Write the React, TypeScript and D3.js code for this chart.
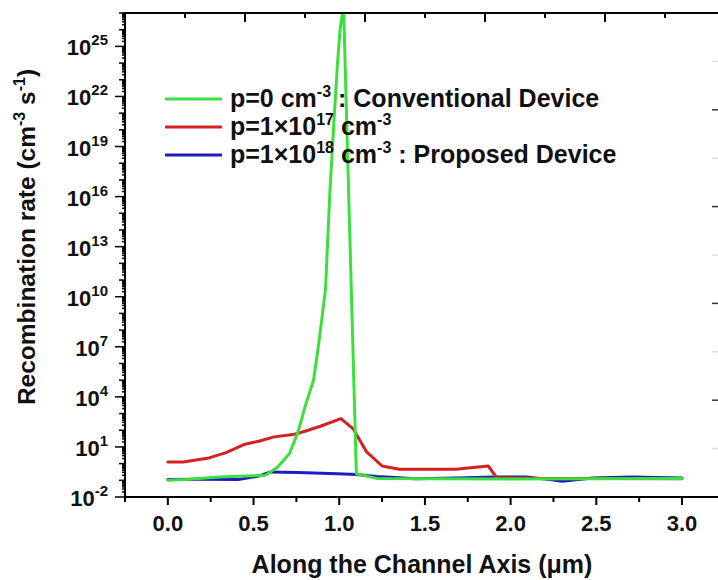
import React from 'react';
import * as d3 from 'd3';

// ---- data ----
const greenX = [0, 0.1, 0.3, 0.5, 0.57, 0.64, 0.71, 0.76, 0.8, 0.85, 0.875, 0.9, 0.92, 0.946, 0.972, 0.99, 1.005, 1.025, 1.1, 1.22, 1.5, 2.0, 2.5, 3.0];
const greenY = [0.1, 0.11, 0.16, 0.19, 0.2, 0.6, 4, 80, 2.5e3, 1e5, 6e6, 6e8, 3e10, 2.5e16, 1e21, 1e24, 1e26, 3e27, 0.25, 0.13, 0.125, 0.12, 0.125, 0.13];

const redX = [0, 0.09, 0.24, 0.34, 0.45, 0.53, 0.62, 0.73, 0.8, 0.89, 1.01, 1.08, 1.16, 1.25, 1.35, 1.68, 1.87, 1.92, 2.2, 2.6, 3.0];
const redY = [1.25, 1.25, 2.2, 4.6, 14.5, 22, 40, 55, 87, 174, 500, 126, 5, 0.72, 0.46, 0.46, 0.72, 0.14, 0.13, 0.13, 0.125];

const blueX = [0, 0.18, 0.41, 0.53, 0.6, 0.76, 0.99, 1.1, 1.22, 1.45, 1.68, 1.91, 2.09, 2.23, 2.3, 2.48, 2.71, 3.0];
const blueY = [0.112, 0.115, 0.11, 0.18, 0.32, 0.29, 0.25, 0.22, 0.17, 0.126, 0.138, 0.16, 0.16, 0.11, 0.087, 0.138, 0.16, 0.138];

const xTickValues = [0, 0.5, 1.0, 1.5, 2.0, 2.5, 3.0];
const xMinorTicks = [-0.25, 0.25, 0.75, 1.25, 1.75, 2.25, 2.75];
const yTickExponents = [-2, 1, 4, 7, 10, 13, 16, 19, 22, 25];

const FONT = '"Liberation Sans", Arial, Helvetica, sans-serif';

const W = 718;
const H = 580;
const LEFT = 125;
const BOTTOM = 497;
const TOP = 13;

export default function App() {
  const x = d3.scaleLinear().domain([-0.25, 3.0]).range([LEFT, 682]);
  const y = d3.scaleLog().domain([1e-2, 1e27]).range([BOTTOM, TOP]);
  const topScale = d3.scaleLinear().domain([0, 10]).range([LEFT, 725]);
  const rightScale = d3.scaleLinear().domain([0, 10]).range([BOTTOM, 13]);

  const line = d3
    .line<[number, number]>()
    .x((d) => x(d[0]))
    .y((d) => y(d[1]));

  const series = [
    { xs: blueX, ys: blueY, color: '#1c1cc0' },
    { xs: redX, ys: redY, color: '#d4201e' },
    { xs: greenX, ys: greenY, color: '#3ddf3d' },
  ];

  // y ticks (log): decades and sub-decades
  const yTicks: { v: number; len: number }[] = [];
  for (let d = -2; d <= 27; d++) {
    const major = (d + 2) % 3 === 0;
    yTicks.push({ v: Math.pow(10, d), len: major ? 10 : 6 });
    if (d < 27) {
      for (let k = 2; k <= 9; k++) yTicks.push({ v: k * Math.pow(10, d), len: 3 });
    }
  }

  const topTicks = d3.range(0, 11).map((k) => ({ v: k, major: k % 2 === 0 }));
  const rightTicks = d3.range(1, 10).map((k) => ({ v: k, major: k % 2 === 0 }));

  const legend = [
    { color: '#3ddf3d', parts: [['p=0 cm', ''], ['-3', 'sup'], [' : Conventional Device', '']] },
    { color: '#d4201e', parts: [['p=1×10', ''], ['17', 'sup'], [' cm', 'back'], ['-3', 'sup']] },
    { color: '#1c1cc0', parts: [['p=1×10', ''], ['18', 'sup'], [' cm', 'back'], ['-3', 'sup'], [' : Proposed Device', 'back']] },
  ];

  return (
    <svg
      width={W}
      height={H}
      style={{ position: 'absolute', left: 0, top: 0, background: '#fff' }}
      fontFamily={FONT}
      fontWeight="bold"
    >
      <defs>
        <clipPath id="plotclip">
          <rect x={LEFT} y={TOP} width={W - LEFT} height={BOTTOM - TOP} />
        </clipPath>
      </defs>
      <rect x={0} y={0} width={W} height={H} fill="#fff" />

      {/* data lines */}
      <g clipPath="url(#plotclip)">
        {series.map((s, i) => (
          <path
            key={i}
            d={line(s.xs.map((v, j) => [v, s.ys[j]] as [number, number])) || ''}
            fill="none"
            stroke={s.color}
            strokeWidth={3}
            strokeLinejoin="round"
            strokeLinecap="round"
          />
        ))}
      </g>

      {/* axes lines */}
      <line x1={LEFT} x2={LEFT} y1={TOP} y2={BOTTOM} stroke="#000" strokeWidth={2} />
      <line x1={LEFT - 1} x2={W} y1={BOTTOM} y2={BOTTOM} stroke="#000" strokeWidth={2} />
      <line x1={LEFT - 1} x2={W} y1={TOP} y2={TOP} stroke="#000" strokeWidth={2} />

      {/* left ticks */}
      {yTicks.map((t, i) => (
        <line key={i} x1={LEFT} x2={LEFT - t.len} y1={y(t.v)} y2={y(t.v)} stroke="#000" strokeWidth={1.5} />
      ))}
      {/* left labels */}
      {yTickExponents.map((e) => (
        <text key={e} x={108} y={y(Math.pow(10, e)) + 9} textAnchor="end" fontSize={22} fill="#111">
          10
          <tspan dy={-10} fontSize={15}>
            {e}
          </tspan>
        </text>
      ))}

      {/* bottom ticks */}
      {xTickValues.map((v) => (
        <line key={'M' + v} x1={x(v)} x2={x(v)} y1={BOTTOM} y2={BOTTOM + 8} stroke="#000" strokeWidth={2} />
      ))}
      {xMinorTicks.map((v) => (
        <line key={'m' + v} x1={x(v)} x2={x(v)} y1={BOTTOM} y2={BOTTOM + 5} stroke="#000" strokeWidth={2} />
      ))}
      {xTickValues.map((v) => (
        <text key={'t' + v} x={x(v)} y={531} textAnchor="middle" fontSize={22} fill="#111">
          {d3.format('.1f')(v)}
        </text>
      ))}

      {/* top ticks (inward) */}
      {topTicks.map((t) => (
        <line
          key={'top' + t.v}
          x1={topScale(t.v)}
          x2={topScale(t.v)}
          y1={TOP}
          y2={TOP + (t.major ? 9 : 5)}
          stroke="#000"
          strokeWidth={2}
        />
      ))}

      {/* right side ticks (partially visible axis) */}
      {rightTicks.map((t) => (
        <line
          key={'r' + t.v}
          x1={712}
          x2={718}
          y1={rightScale(t.v)}
          y2={rightScale(t.v)}
          stroke={t.major ? '#333' : '#ddd'}
          strokeWidth={1.5}
        />
      ))}

      {/* x title */}
      <text x={422} y={573} textAnchor="middle" fontSize={25} fill="#111">
        Along the Channel Axis (μm)
      </text>

      {/* y title */}
      <text transform="translate(35,237) rotate(-90)" textAnchor="middle" fontSize={24.5} fill="#111">
        Recombination rate (cm
        <tspan dy={-10} fontSize={16}>-3</tspan>
        <tspan dy={10}> s</tspan>
        <tspan dy={-10} fontSize={16}>-1</tspan>
        <tspan dy={10}>)</tspan>
      </text>

      {/* legend */}
      {legend.map((l, i) => {
        const ry = 99 + i * 28;
        let up = false;
        return (
          <g key={i}>
            <line x1={165} x2={222} y1={ry} y2={ry} stroke={l.color} strokeWidth={3} />
            <text x={230} y={ry + 8} fontSize={25} fill="#111">
              {l.parts.map(([txt, kind], j) => {
                let dy = 0;
                if (kind === 'sup') {
                  dy = up ? 0 : -10;
                  up = true;
                  return (
                    <tspan key={j} dy={dy} fontSize={16}>
                      {txt}
                    </tspan>
                  );
                }
                dy = up ? 10 : 0;
                up = false;
                return (
                  <tspan key={j} dy={dy}>
                    {txt}
                  </tspan>
                );
              })}
            </text>
          </g>
        );
      })}
    </svg>
  );
}
